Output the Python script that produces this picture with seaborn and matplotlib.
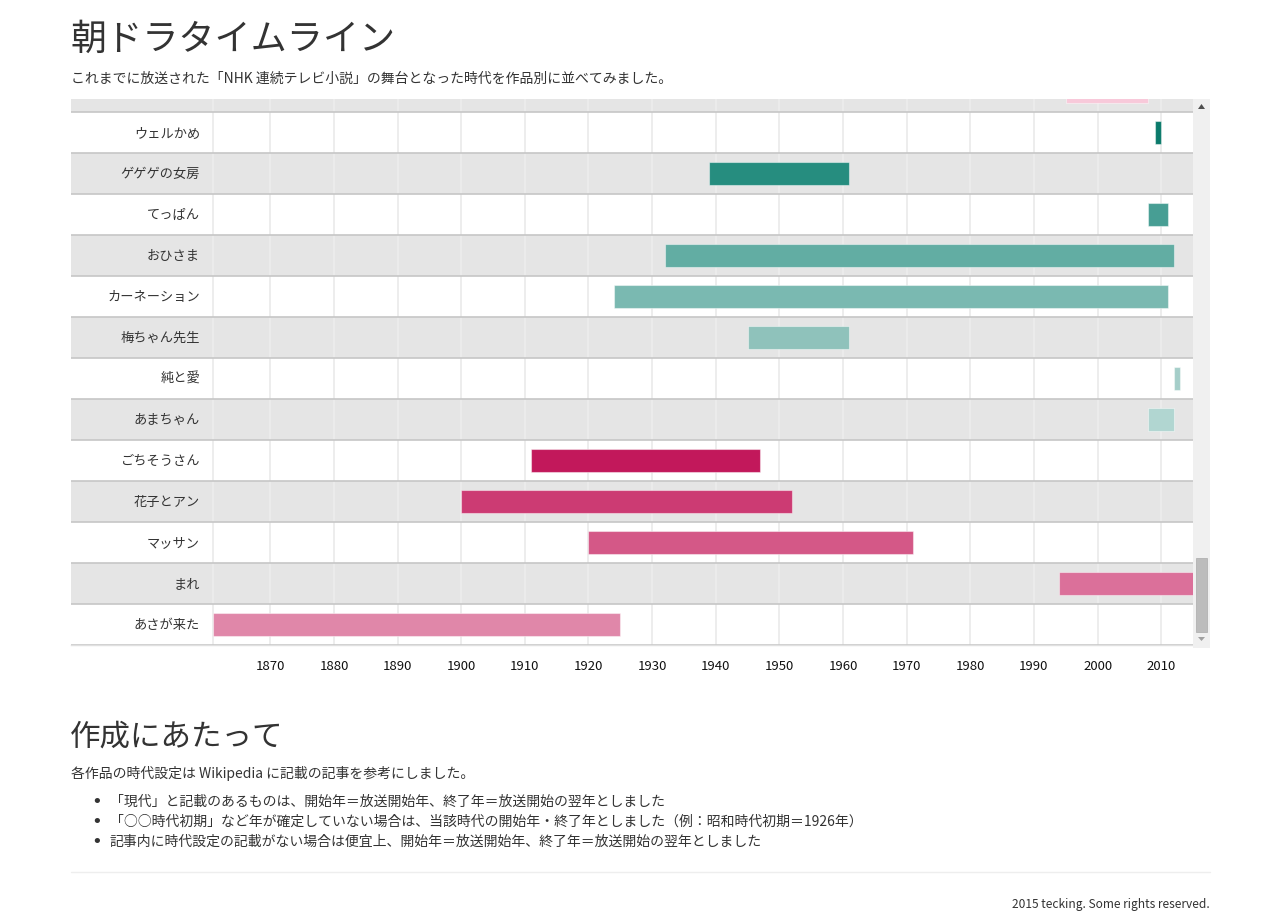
import matplotlib
matplotlib.use("Agg")
import matplotlib.pyplot as plt
import pandas as pd
import seaborn as sns
from matplotlib.patches import Rectangle, Polygon
from matplotlib.lines import Line2D

# 作品データ（上から順に表示）
titles = ["つばさ", "ウェルかめ", "ゲゲゲの女房", "てっぱん", "おひさま", "カーネーション",
          "梅ちゃん先生", "純と愛", "あまちゃん", "ごちそうさん", "花子とアン", "マッサン",
          "まれ", "あさが来た"]
start_year = [1995, 2009, 1939, 2008, 1932, 1924, 1945, 2012, 2008, 1911, 1900, 1920, 1994, 1861]
end_year = [2008, 2010, 1961, 2011, 2012, 2011, 1961, 2013, 2012, 1947, 1952, 1971, 2016, 1925]
bar_colors = ["#f8c9da", "#0b7a6b", "#268d7f", "#479e94", "#62ada3", "#7ab9b1",
              "#8fc2bb", "#a5cec9", "#b1d6d1", "#c2185b", "#cc3b73", "#d45887",
              "#db709a", "#e087a9"]
year_ticks = list(range(1870, 2011, 10))

df = pd.DataFrame({"title": titles, "start": start_year, "end": end_year})
df["span"] = df["end"] - df["start"]

sns.set_theme(style="white")
plt.rcParams["font.family"] = ["Noto Sans CJK JP", "DejaVu Sans"]

TXT = "#333333"
fig = plt.figure(figsize=(12.63, 9.22), dpi=100)
W, H = 1263, 922

# 軸の範囲（px -> 年）
px_per_year = 6.36
x0_year = 1861
label_w = 142
xmin = x0_year - label_w / px_per_year
xmax = 2015.0

ax = fig.add_axes([71 / W, (H - 645) / H, 1122 / W, 546 / H])

# 行の縞模様と区切り線
for i in range(len(titles)):
    if i % 2 == 0:
        ax.axhspan(i - 0.5, i + 0.5, color="#e5e5e5", zorder=0, lw=0)
    ax.axhline(i + 0.5, color="#c6c6c6", lw=1.2, zorder=1)

# 縦のグリッド
for yr in [x0_year] + year_ticks:
    ax.axvline(yr, color="#ececec", lw=1.3, zorder=0.5)

n_before = len(ax.patches)
sns.barplot(data=df, x="span", y="title", left=df["start"], width=0.56,
            color="#888888", errorbar=None, ax=ax, zorder=3)
bars = ax.patches[n_before:]
for patch, c in zip(bars, bar_colors):
    patch.set_facecolor(c)
    patch.set_edgecolor((1, 1, 1, 0.45))
    patch.set_linewidth(0.8)

# 作品名ラベル
for i, t in enumerate(titles):
    ax.text(x0_year - 13 / px_per_year, i + 1 / 41, t, ha="right", va="center",
            fontsize=9.5, color=TXT, clip_on=True, zorder=4)

ax.set_xlim(xmin, xmax)
ax.set_ylim(len(titles) - 0.5, 0.5 - 13 / 41)
ax.set_yticks([])
ax.set_xticks(year_ticks)
ax.set_xticklabels([str(y) for y in year_ticks], fontsize=9.5, color="#111111")
ax.tick_params(axis="x", length=0, pad=11)
ax.set_xlabel("")
ax.set_ylabel("")
for s in ["top", "right", "left"]:
    ax.spines[s].set_visible(False)
ax.spines["bottom"].set_color("#e0e0e0")
ax.spines["bottom"].set_linewidth(1)

# スクロールバー
def fx(px):
    return px / W

def fy(py):
    return (H - py) / H

fig.patches.append(Rectangle((fx(1193), fy(648)), 17 / W, 549 / H, transform=fig.transFigure,
                             facecolor="#f0f0f0", edgecolor="none", zorder=5))
fig.patches.append(Rectangle((fx(1196), fy(632)), 11 / W, 74 / H, transform=fig.transFigure,
                             facecolor="#bcbcbc", edgecolor="#aaaaaa", lw=0.5, zorder=6))
fig.patches.append(Polygon([(fx(1198), fy(109)), (fx(1205), fy(109)), (fx(1201.5), fy(104))],
                           closed=True, transform=fig.transFigure, facecolor="#505050",
                           edgecolor="none", zorder=6))
fig.patches.append(Polygon([(fx(1198), fy(637)), (fx(1205), fy(637)), (fx(1201.5), fy(641))],
                           closed=True, transform=fig.transFigure, facecolor="#a0a0a0",
                           edgecolor="none", zorder=6))

# テキスト
fig.text(fx(70), fy(40), "朝ドラタイムライン", fontsize=26, color=TXT, va="center", ha="left")
fig.text(fx(71), fy(79), "これまでに放送された「NHK 連続テレビ小説」の舞台となった時代を作品別に並べてみました。",
         fontsize=10, color=TXT, va="center", ha="left")

fig.text(fx(70), fy(737), "作成にあたって", fontsize=22, color=TXT, va="center", ha="left")
fig.text(fx(71), fy(773), "各作品の時代設定は Wikipedia に記載の記事を参考にしました。",
         fontsize=10, color=TXT, va="center", ha="left")
notes = [
    "「現代」と記載のあるものは、開始年＝放送開始年、終了年＝放送開始の翌年としました",
    "「○○時代初期」など年が確定していない場合は、当該時代の開始年・終了年としました（例：昭和時代初期＝1926年）",
    "記事内に時代設定の記載がない場合は便宜上、開始年＝放送開始年、終了年＝放送開始の翌年としました",
]
for k, note in enumerate(notes):
    yy = 802 + 20 * k
    fig.text(fx(91), fy(yy), "•", fontsize=13, color=TXT, va="center", ha="left",
             family="DejaVu Sans")
    fig.text(fx(110), fy(yy), note, fontsize=10, color=TXT, va="center", ha="left")

fig.lines.append(Line2D([fx(71), fx(1210)], [fy(872), fy(872)], transform=fig.transFigure,
                        color="#eeeeee", lw=1))
fig.text(fx(1210), fy(904), "2015 tecking. Some rights reserved.", fontsize=8.6, color=TXT,
         va="center", ha="right")

fig.savefig("out.png", dpi=100)
